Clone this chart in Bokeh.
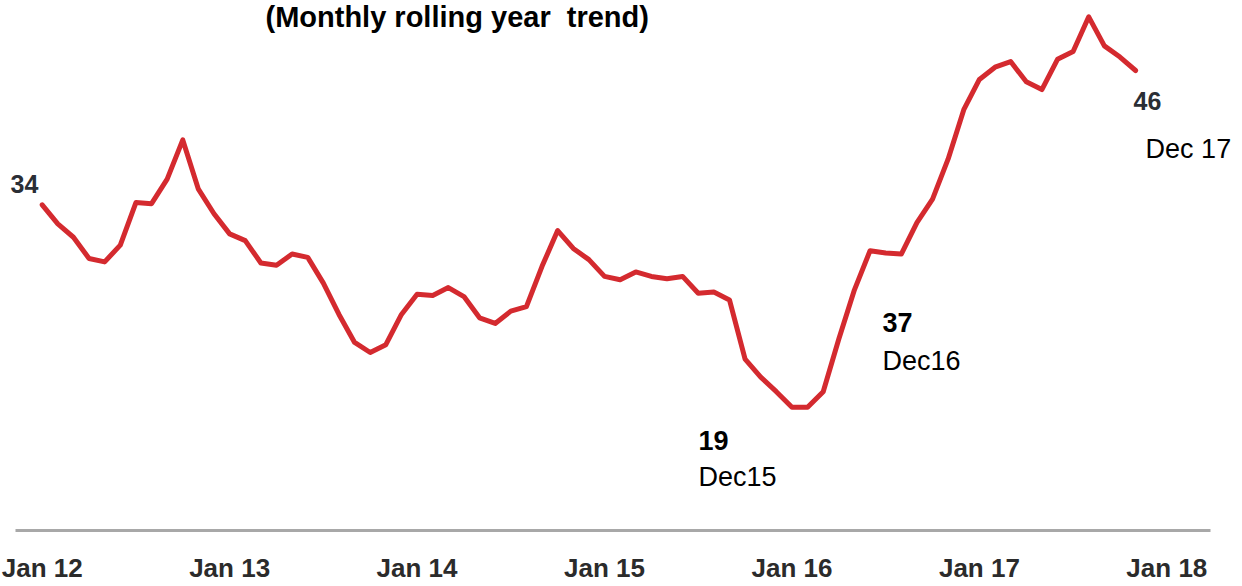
from bokeh.plotting import figure
from bokeh.models import ColumnDataSource, FixedTicker, Label, Range1d
from bokeh.core.properties import value
from bokeh.embed import file_html
from bokeh.resources import INLINE

# ---------------- data ----------------
title_text = "(Monthly rolling year\u00a0 trend)"
tick_labels = ["Jan 12", "Jan 13", "Jan 14", "Jan 15", "Jan 16", "Jan 17", "Jan 18"]
tick_months = [0, 12, 24, 36, 48, 60, 72]

values = [
    34.0, 32.3, 31.1, 29.2, 28.9, 30.4, 34.2, 34.1, 36.3, 39.8, 35.4, 33.2,
    31.4, 30.8, 28.8, 28.6, 29.6, 29.3, 27.0, 24.2, 21.7, 20.8, 21.5, 24.2,
    26.0, 25.9, 26.6, 25.8, 23.9, 23.4, 24.5, 24.9, 28.5, 31.7, 30.1, 29.1,
    27.6, 27.3, 28.0, 27.6, 27.4, 27.6, 26.1, 26.2, 25.5, 20.2, 18.6, 17.3,
    15.9, 15.9, 17.3, 22.0, 26.4, 29.9, 29.7, 29.6, 32.4, 34.5, 38.1, 42.5,
    45.2, 46.3, 46.8, 45.0, 44.3, 47.0, 47.7, 50.8, 48.2, 47.2, 46.0,
]
months = list(range(len(values)))

value_labels = ["34", "46"]
value_label_idx = [0, 70]
key_labels = ["19", "37"]
key_label_idx = [47, 59]
date_labels = ["Dec15", "Dec16", "Dec 17"]
date_label_idx = [47, 59, 70]

# ---------------- layout / style ----------------
W = 1242
FRAME_H = 530
PX_PER_MONTH = 15.62
PX_PER_UNIT = 11.19
x0_px = 41.7          # pixel of month 0 inside frame
y34_px = 204.3        # pixel of value 34 from frame top

x_start = -x0_px / PX_PER_MONTH
x_end = x_start + W / PX_PER_MONTH
y_end = 34 + y34_px / PX_PER_UNIT
y_start = y_end - FRAME_H / PX_PER_UNIT

p = figure(frame_width=W, frame_height=FRAME_H, output_backend="svg",
           toolbar_location=None, x_range=Range1d(x_start, x_end),
           y_range=Range1d(y_start, y_end), min_border=0)
p.outline_line_color = None
p.grid.visible = False
p.yaxis.visible = False
p.background_fill_color = "white"
p.border_fill_color = "white"

src = ColumnDataSource(dict(x=months, y=values))
p.line("x", "y", source=src, line_color="#d42a2f", line_width=5,
       line_join="round", line_cap="round")

ax = p.xaxis[0]
ax.ticker = FixedTicker(ticks=tick_months)
ax.major_label_overrides = {m: t for m, t in zip(tick_months, tick_labels)}
ax.bounds = ((15 - x0_px) / PX_PER_MONTH, (1210 - x0_px) / PX_PER_MONTH)
ax.axis_line_color = "#a8a8a8"
ax.axis_line_width = 3
ax.major_tick_line_color = None
ax.minor_tick_line_color = None
ax.major_tick_out = 0
ax.major_label_standoff = 22
ax.major_label_text_font = "Liberation Sans"
ax.major_label_text_font_style = "bold"
ax.major_label_text_font_size = "26px"
ax.major_label_text_color = "#2b2b2b"


def add_texts(labels, idx, dx, dy, font_size, style, color):
    s = ColumnDataSource(dict(
        x=[months[i] for i in idx], y=[values[i] for i in idx],
        t=labels, dx=dx, dy=dy))
    p.text("x", "y", text="t", source=s, x_offset="dx", y_offset="dy",
           text_font=value("Liberation Sans"), text_font_size=font_size,
           text_font_style=style, text_color=color,
           text_align="left", text_baseline="alphabetic")


add_texts(value_labels, value_label_idx, [-31.7, -2], [-21.3, 30],
          "25px", "bold", "#2a2e35")
add_texts(key_labels, key_label_idx, [-77.8, -81.3], [48.6, 213],
          "27px", "bold", "black")
add_texts(date_labels, date_label_idx, [-77.8, -81.3, 10], [85.6, 251, 78],
          "27px", "normal", "black")

p.add_layout(Label(x=265, y=FRAME_H - 16, x_units="screen", y_units="screen",
                   text=title_text, text_font="Liberation Sans",
                   text_font_style="bold", text_font_size="29px",
                   text_color="black", text_baseline="alphabetic"))

open("out.html", "w").write(file_html(p, INLINE))
